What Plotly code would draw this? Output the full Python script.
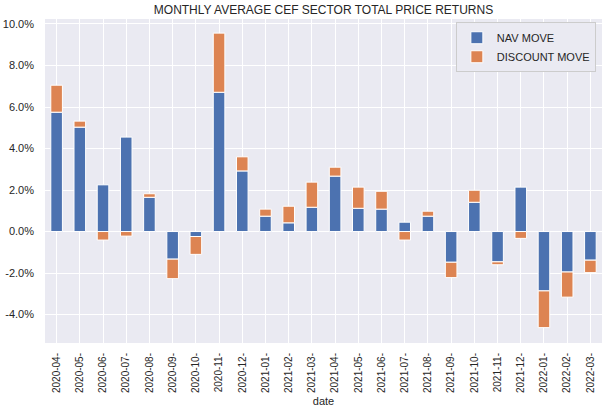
import plotly.graph_objects as go

dates = ["2020-04", "2020-05", "2020-06", "2020-07", "2020-08", "2020-09", "2020-10",
         "2020-11", "2020-12", "2021-01", "2021-02", "2021-03", "2021-04", "2021-05",
         "2021-06", "2021-07", "2021-08", "2021-09", "2021-10", "2021-11", "2021-12",
         "2022-01", "2022-02", "2022-03"]
date_labels = [d + "-" for d in dates]
nav_move = [5.75, 5.03, 2.25, 4.55, 1.65, -1.33, -0.24, 6.71, 2.92, 0.74, 0.42, 1.17,
            2.67, 1.12, 1.08, 0.45, 0.74, -1.48, 1.41, -1.46, 2.14, -2.86, -1.95, -1.38]
discount_move = [1.30, 0.29, -0.41, -0.22, 0.17, -0.94, -0.86, 2.85, 0.68, 0.34, 0.80, 1.21,
                 0.43, 1.02, 0.86, -0.41, 0.24, -0.74, 0.58, -0.14, -0.33, -1.77, -1.21, -0.60]
y_ticks = [-4, -2, 0, 2, 4, 6, 8, 10]
y_tick_labels = [f"{v:.1f}%" for v in y_ticks]

font = "Liberation Sans, Arial, sans-serif"
txt = "#262626"

fig = go.Figure()
fig.add_trace(go.Bar(x=dates, y=nav_move, name="NAV MOVE", marker_color="#4c72b0",
                     marker_line=dict(color="white", width=1), width=0.5))
fig.add_trace(go.Bar(x=dates, y=discount_move, name="DISCOUNT MOVE", marker_color="#dd8452",
                     marker_line=dict(color="white", width=1), width=0.5))

fig.update_layout(
    barmode="relative",
    width=615, height=408,
    margin=dict(l=45, r=13, t=19, b=65, autoexpand=False),
    paper_bgcolor="white",
    plot_bgcolor="#eaeaf2",
    font=dict(family=font, size=11, color=txt),
    title=dict(text="MONTHLY AVERAGE CEF SECTOR TOTAL PRICE RETURNS", x=0.5, xref="paper",
               xanchor="center", y=0.976, yanchor="middle",
               font=dict(size=12, color=txt, family=font)),
    legend=dict(x=0.989, xanchor="right", y=0.99, yanchor="top",
                bgcolor="#eaeaf2", bordercolor="#cccccc", borderwidth=1,
                font=dict(size=11, color=txt), traceorder="normal"),
    showlegend=True,
)
fig.update_xaxes(type="category", range=[-0.5, 23.5], tickangle=-90,
                 tickvals=dates, ticktext=date_labels,
                 showgrid=True, gridcolor="white", gridwidth=1, ticks="",
                 ticklabelstandoff=7, automargin=False,
                 title=dict(text="date", standoff=5, font=dict(size=11, color=txt)),
                 tickfont=dict(size=10, color=txt), zeroline=False, showline=False)
fig.update_yaxes(range=[-5.37, 10.24], tickvals=y_ticks, ticktext=y_tick_labels,
                 showgrid=True, gridcolor="white", gridwidth=1, zeroline=False,
                 automargin=False, ticklabelstandoff=10,
                 tickfont=dict(size=11, color=txt), ticks="", showline=False)

fig.write_html("out.html", config={"displayModeBar": False},
               post_script="document.body.style.margin='0';")
